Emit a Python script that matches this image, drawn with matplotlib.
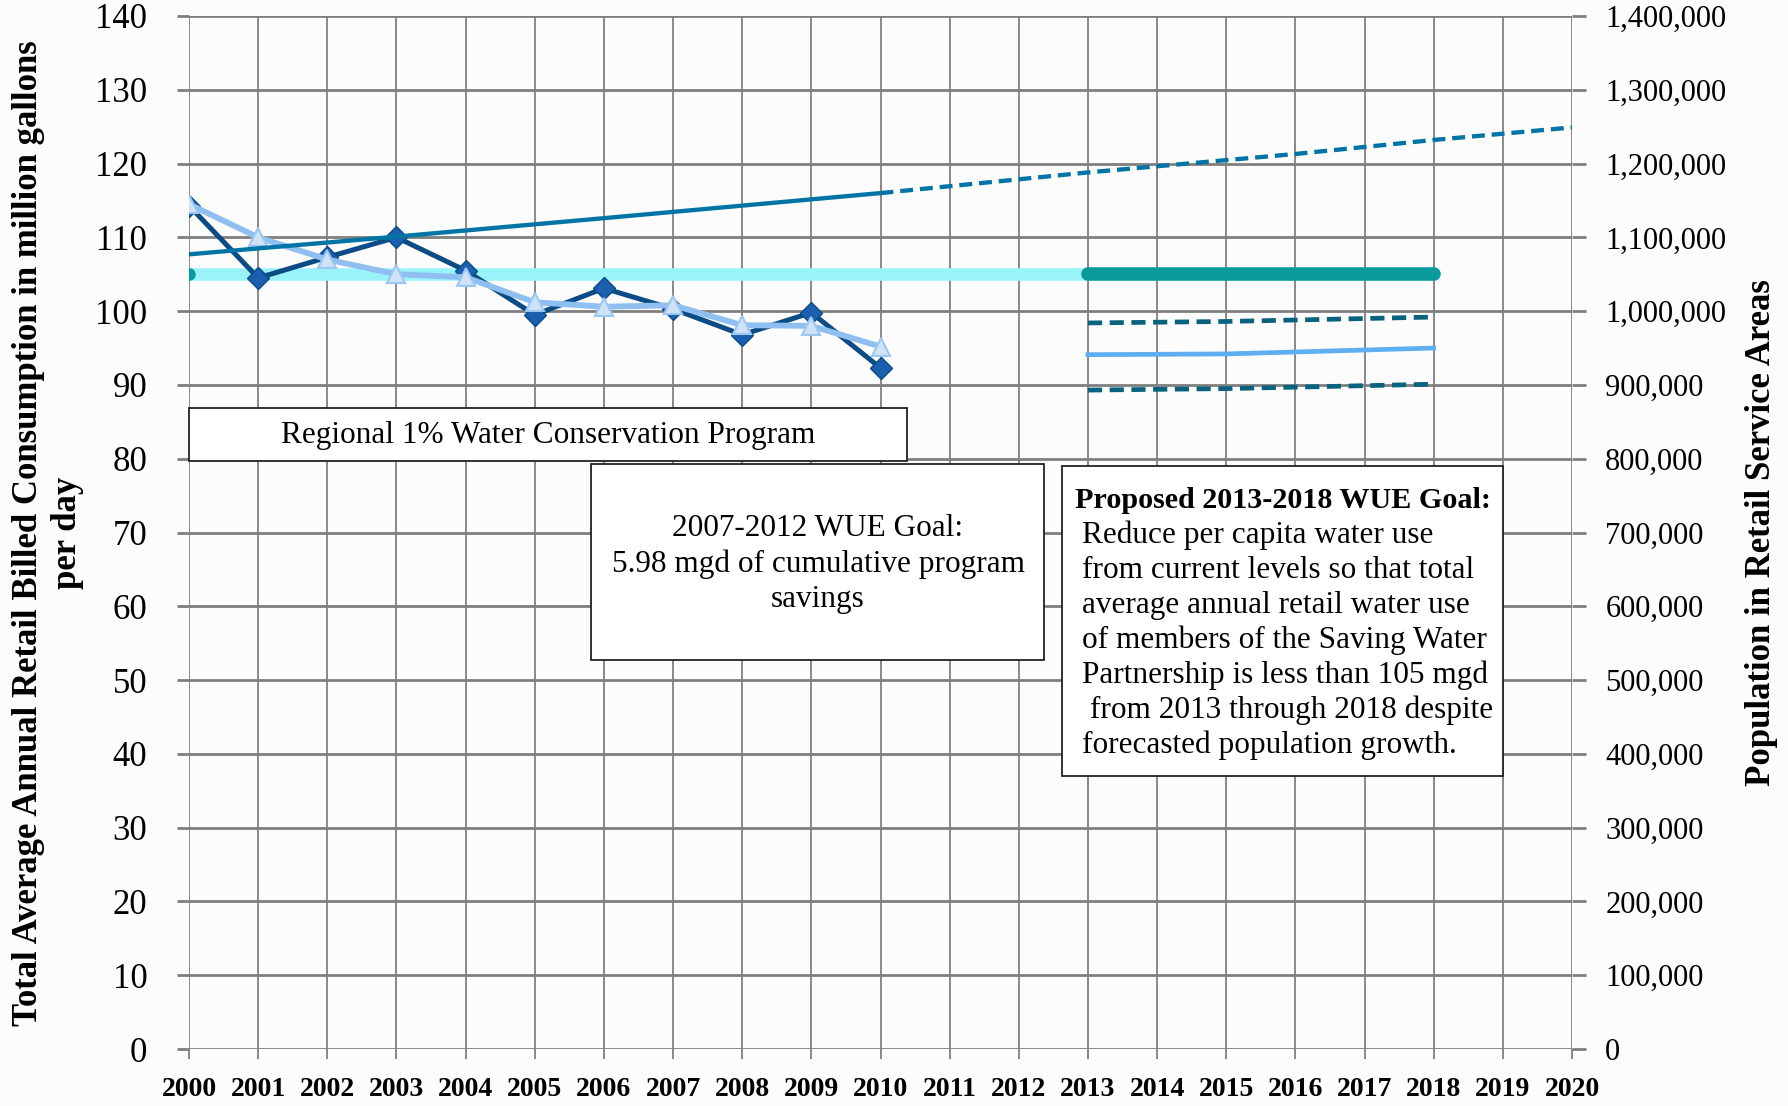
import matplotlib
matplotlib.use("Agg")
import matplotlib.pyplot as plt
from matplotlib.patches import Rectangle
from matplotlib.ticker import FuncFormatter, MultipleLocator

plt.rcParams['font.family'] = ['Liberation Serif', 'DejaVu Serif']

# --- data ---
years = [2000, 2001, 2002, 2003, 2004, 2005, 2006, 2007, 2008, 2009, 2010]
actual_mgd = [114.3, 104.5, 107.3, 110.0, 105.5, 99.5, 103.1, 100.3, 96.8, 99.8, 92.3]
normalized_mgd = [114.5, 110.0, 107.0, 105.0, 104.6, 101.2, 100.6, 100.8, 98.1, 98.0, 95.2]

pop_years = [2000, 2003, 2006, 2010]
population = [1077000, 1101000, 1126000, 1160000]
proj_years = [2010, 2013, 2016, 2018, 2020]
proj_population = [1160000, 1188000, 1213000, 1232000, 1249000]

old_goal_years = [2000, 2013]
old_goal = [105, 105]
new_goal_years = [2013, 2018]
new_goal = [105, 105]

fc_years = [2013, 2015, 2018]
fc_upper = [98.4, 98.6, 99.2]
fc_mid = [94.1, 94.2, 95.0]
fc_lower = [89.3, 89.5, 90.1]

W, H = 1788, 1106
fig = plt.figure(figsize=(W / 100, H / 100), dpi=100)
fig.patch.set_facecolor('#fcfcfc')
ax = fig.add_axes([189 / W, 1 - 1049 / H, (1572 - 189) / W, (1049 - 16) / H])
ax.set_facecolor('none')
grid_c = '#7f7f7f'

ax.set_xlim(2000, 2020)
ax.set_ylim(0, 140)
ax.xaxis.set_major_locator(MultipleLocator(1))
ax.yaxis.set_major_locator(MultipleLocator(10))
ax.grid(True, axis='y', color=grid_c, lw=2.0, zorder=0)
ax.grid(True, axis='x', color=grid_c, lw=1.3, zorder=0)
ax.set_axisbelow(True)
for s in ax.spines.values():
    s.set_visible(False)
ax.tick_params(axis='y', length=9, width=2.0, color=grid_c, pad=21, labelsize=25)
ax.tick_params(axis='x', length=7, width=1.3, color=grid_c, pad=13, labelsize=20)
for lab in ax.get_xticklabels():
    lab.set_fontweight('bold')

# goal lines
ax.plot(old_goal_years, old_goal, color='#99f4f9', lw=9, zorder=2, solid_capstyle='butt')
ax.plot([2000], [105], 'o', color='#0a9a9e', ms=8, zorder=2, clip_on=True)
ax.plot(new_goal_years, new_goal, color='#0a9a9e', lw=9.8, zorder=3, solid_capstyle='round')

# forecast band
ax.plot(fc_years, fc_upper, color='#09637e', lw=3.4, ls=(0, (3, 1.6)), zorder=3)
ax.plot(fc_years, fc_lower, color='#09637e', lw=3.4, ls=(0, (3, 1.6)), zorder=3)
ax.plot(fc_years, fc_mid, color='#5eaef0', lw=3.4, zorder=3)

# consumption series
ax.plot(years, actual_mgd, color='#0b4c87', lw=3.6, marker='D', ms=11,
        mfc='#1c5fae', mec='#0b4c87', zorder=5)
ax.plot(years, normalized_mgd, color='#8ebff0', lw=4.2, marker='^', ms=13,
        mfc='#cfe2f6', mec='#9cc7f2', mew=1.5, zorder=6)

# population on right axis
ax2 = ax.twinx()
ax2.set_ylim(0, 1400000)
ax2.yaxis.set_major_locator(MultipleLocator(100000))
ax2.yaxis.set_major_formatter(FuncFormatter(lambda v, p: f"{int(v):,}"))
for s in ax2.spines.values():
    s.set_visible(False)
ax2.tick_params(axis='y', length=10, width=2.0, color=grid_c, pad=14, labelsize=22)
ax2.plot(pop_years, population, color='#0074a4', lw=3.1, zorder=4)
ax2.plot(proj_years, proj_population, color='#0074a4', lw=3.1, ls=(0, (3, 1.6)), zorder=4)

# axis titles placed in figure pixels
fig.text(48 / W, 1 - 533 / H,
         "Total Average Annual Retail Billed Consumption in million gallons\nper day",
         rotation=90, ha='center', va='center', multialignment='center',
         fontsize=25, fontweight='bold', linespacing=1.25)
fig.text(1762 / W, 1 - 533 / H, "Population in Retail Service Areas",
         rotation=90, ha='center', va='center', fontsize=25, fontweight='bold')


def box(x0, y0, x1, y1):
    fig.add_artist(Rectangle((x0 / W, 1 - y1 / H), (x1 - x0) / W, (y1 - y0) / H,
                             transform=fig.transFigure, fc='white', ec='#222222', lw=1.3))


def txt(x, y, s, ha='center', size=22.5, **kw):
    fig.text(x / W, 1 - y / H, s, ha=ha, va='center', fontsize=size, **kw)


box(189, 408, 907, 461)
txt(548, 435, "Regional 1% Water Conservation Program")

box(591, 464, 1044, 660)
txt(818, 528, "2007-2012 WUE Goal:")
txt(818, 564, "5.98 mgd of cumulative program")
txt(818, 599, "savings")

box(1062, 466, 1503, 776)
txt(1075, 500, "Proposed 2013-2018 WUE Goal:", ha='left', size=21.7, fontweight='bold')
goal_lines = ["Reduce per capita water use",
              "from current levels so that total",
              "average annual retail water use",
              "of members of the Saving Water",
              "Partnership is less than 105 mgd",
              " from 2013 through 2018 despite",
              "forecasted population growth."]
for i, line in enumerate(goal_lines):
    txt(1082, 535 + 35 * i, line, ha='left')

fig.savefig("out.png", dpi=100, facecolor=fig.get_facecolor())
